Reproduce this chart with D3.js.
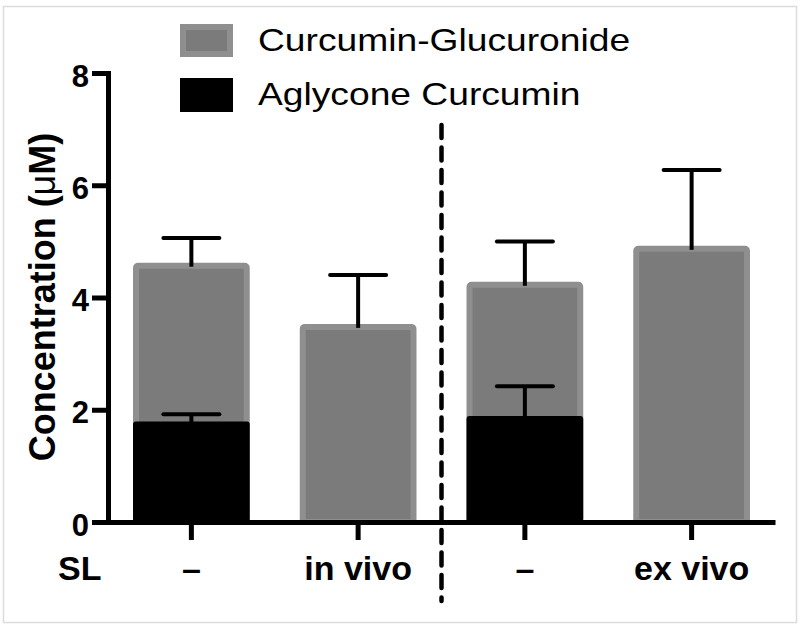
<!DOCTYPE html>
<html>
<head>
<meta charset="utf-8">
<script src="https://cdn.jsdelivr.net/npm/d3@7"></script>
<style>
  body { margin: 0; background: #fff; }
  svg { display: block; font-family: "Liberation Sans", Arial, Helvetica, sans-serif; }
  .axis path, .axis line { stroke: #000; stroke-width: 5; }
  .axis text { fill: #000; font-weight: bold; }
</style>
</head>
<body>
<div class="chart"></div>
<script>
// values
var groups = ["–", "in vivo", "–", "ex vivo"];
var glucuronide = [4.62, 3.53, 4.28, 4.92];
var glucuronideErr = [0.44, 0.87, 0.72, 1.35];
var aglycone = [1.79, 0, 1.89, 0];
var aglyconeErr = [0.13, 0, 0.53, 0];
var yTicks = [0, 2, 4, 6, 8];
var legendLabels = ["Curcumin-Glucuronide", "Aglycone Curcumin"];

var width = 800, height = 629;
var grayFill = "#7b7b7b", grayEdge = "#8f8f8f";

var svg = d3.select(".chart").append("svg")
  .attr("width", width)
  .attr("height", height);

// outer frame
svg.append("rect")
  .attr("x", 3.5).attr("y", 6.5)
  .attr("width", 793).attr("height", 616)
  .attr("fill", "none")
  .attr("stroke", "#dcdcdc")
  .attr("stroke-width", 1.5);

var x = d3.scaleBand()
  .domain(d3.range(groups.length))
  .range([108, 775])
  .paddingInner(0.3)
  .paddingOuter(0.15);

var y = d3.scaleLinear()
  .domain([0, 8])
  .range([522, 73]);

// glucuronide bars (full height, lighter edge)
svg.selectAll(".gluc")
  .data(glucuronide)
  .enter().append("rect")
    .attr("class", "gluc")
    .attr("x", function(d, i) { return x(i) + 3; })
    .attr("y", function(d) { return y(d) + 3; })
    .attr("width", x.bandwidth() - 6)
    .attr("height", function(d) { return y(0) - y(d) - 3; })
    .attr("rx", 2)
    .attr("fill", grayFill)
    .attr("stroke", grayEdge)
    .attr("stroke-width", 6);

// aglycone bars
svg.selectAll(".agly")
  .data(aglycone)
  .enter().append("rect")
    .attr("class", "agly")
    .attr("x", function(d, i) { return x(i); })
    .attr("y", function(d) { return y(d); })
    .attr("width", x.bandwidth())
    .attr("height", function(d) { return y(0) - y(d); })
    .attr("rx", 3)
    .attr("fill", "#000")
    .style("display", function(d) { return d > 0 ? null : "none"; });

// error bars
function errorBars(vals, errs, cls) {
  var g = svg.selectAll("." + cls)
    .data(vals.map(function(v, i) { return { v: v, e: errs[i], i: i }; })
      .filter(function(d) { return d.v > 0; }))
    .enter().append("g")
      .attr("class", cls);
  g.append("line")
    .attr("x1", function(d) { return x(d.i) + x.bandwidth() / 2; })
    .attr("x2", function(d) { return x(d.i) + x.bandwidth() / 2; })
    .attr("y1", function(d) { return y(d.v) + 4; })
    .attr("y2", function(d) { return y(d.v + d.e); })
    .attr("stroke", "#000")
    .attr("stroke-width", 4);
  g.append("line")
    .attr("x1", function(d) { return x(d.i) + x.bandwidth() / 2 - 28; })
    .attr("x2", function(d) { return x(d.i) + x.bandwidth() / 2 + 28; })
    .attr("y1", function(d) { return y(d.v + d.e); })
    .attr("y2", function(d) { return y(d.v + d.e); })
    .attr("stroke", "#000")
    .attr("stroke-width", 4)
    .attr("stroke-linecap", "round");
}
errorBars(glucuronide, glucuronideErr, "errG");
errorBars(aglycone, aglyconeErr, "errA");

// axes
var yAxis = svg.append("g")
  .attr("class", "axis")
  .attr("transform", "translate(108,0)")
  .call(d3.axisLeft(y).tickValues(yTicks).tickSize(16).tickSizeOuter(0).tickPadding(3));
yAxis.select(".domain").attr("stroke-linecap", "square");
yAxis.selectAll("text")
  .style("font-size", "31px")
  .attr("dy", "0.42em");

var xAxis = svg.append("g")
  .attr("class", "axis")
  .attr("transform", "translate(0," + y(0) + ")")
  .call(d3.axisBottom(x).tickFormat(function(i) { return groups[i]; }).tickSize(18).tickSizeOuter(0).tickPadding(16));
xAxis.select(".domain").attr("stroke-linecap", "butt");
xAxis.selectAll("text").style("font-size", "34px");

svg.append("text")
  .attr("x", 58)
  .attr("y", 580)
  .style("font-size", "34px")
  .style("font-weight", "bold")
  .text("SL");

// y label
var yLab = svg.append("text")
  .attr("transform", "translate(55,297) rotate(-90)")
  .attr("text-anchor", "middle")
  .style("font-size", "36px")
  .style("font-weight", "bold")
  .text("Concentration (");
yLab.append("tspan").style("font-weight", "normal").text("μ");
yLab.append("tspan").text("M)");

// dashed separator between in vivo and ex vivo groups
var sepX = (x(1) + x.bandwidth() + x(2)) / 2;
svg.append("line")
  .attr("x1", sepX).attr("x2", sepX)
  .attr("y1", 125).attr("y2", 601)
  .attr("stroke", "#000")
  .attr("stroke-width", 4.5)
  .attr("stroke-dasharray", "13,9.5")
  .attr("stroke-linecap", "round");

// legend
var legend = svg.selectAll(".legend")
  .data(legendLabels)
  .enter().append("g")
    .attr("class", "legend")
    .attr("transform", function(d, i) { return "translate(180," + (24 + i * 54) + ")"; });

legend.append("rect")
  .attr("x", function(d, i) { return i === 0 ? 3 : 0; })
  .attr("y", function(d, i) { return i === 0 ? 3 : 0; })
  .attr("width", function(d, i) { return i === 0 ? 47 : 53; })
  .attr("height", function(d, i) { return i === 0 ? 27 : 34; })
  .attr("fill", function(d, i) { return i === 0 ? grayFill : "#000"; })
  .attr("stroke", function(d, i) { return i === 0 ? grayEdge : "none"; })
  .attr("stroke-width", 6);

legend.append("text")
  .attr("transform", "translate(78,27) scale(1.2,1)")
  .style("font-size", "31px")
  .text(function(d) { return d; });
</script>
</body>
</html>
